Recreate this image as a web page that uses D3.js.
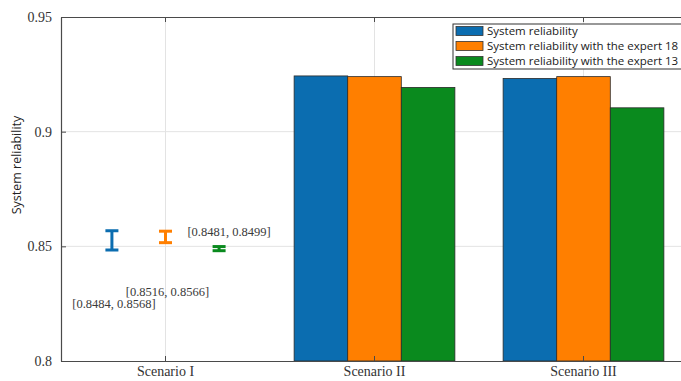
<!DOCTYPE html>
<html>
<head>
<meta charset="utf-8">
<script src="https://cdn.jsdelivr.net/npm/d3@7"></script>
<style>
  html, body { margin: 0; padding: 0; background: #fff; }
  svg { display: block; overflow: hidden; }
</style>
</head>
<body>
<svg id="chart" width="681" height="381"></svg>
<script>
// Scenario labels along the x axis
const categories = ["Scenario I", "Scenario II", "Scenario III"];
// The three compared quantities
const seriesNames = [
  "System reliability",
  "System reliability with the expert 18",
  "System reliability with the expert 13"
];
const seriesColors = ["#0b6db0", "#ff7f00", "#0a8a1e"];

// Scenario I: reliability intervals [low, high]
const intervalLow  = [0.8484, 0.8516, 0.8481];
const intervalHigh = [0.8568, 0.8566, 0.8499];

// Scenario II and III: point values
const scenarioIIValues  = [0.9243, 0.9240, 0.9193];
const scenarioIIIValues = [0.9232, 0.9240, 0.9104];

const yTicks = [0.8, 0.85, 0.9, 0.95];

const svg = d3.select("#chart");
const plot = { left: 61, right: 688, top: 17, bottom: 361 };

const x = d3.scaleBand().domain(categories).range([plot.left, plot.right]).padding(0);
const xSub = d3.scaleBand().domain(seriesNames).range([0, x.bandwidth()])
  .paddingInner(0).paddingOuter(0.45);
const y = d3.scaleLinear().domain([0.8, 0.95]).range([plot.bottom, plot.top]);
const color = d3.scaleOrdinal().domain(seriesNames).range(seriesColors);

const serif = "'Liberation Serif', 'Times New Roman', serif";
const sans = "'Open Sans', 'Liberation Sans', sans-serif";

// grid
const grid = svg.append("g").attr("stroke", "#e3e3e3").attr("stroke-width", 1);
grid.selectAll("line.gy").data(yTicks.slice(1, -1)).join("line")
  .attr("x1", plot.left).attr("x2", plot.right)
  .attr("y1", d => y(d)).attr("y2", d => y(d));
grid.selectAll("line.gx").data(categories).join("line")
  .attr("x1", d => x(d) + x.bandwidth() / 2).attr("x2", d => x(d) + x.bandwidth() / 2)
  .attr("y1", plot.top).attr("y2", plot.bottom);

// bars for Scenario II and III
const barRows = [
  { cat: "Scenario II", values: scenarioIIValues },
  { cat: "Scenario III", values: scenarioIIIValues }
];
const barData = barRows.flatMap(r => r.values.map((v, i) => ({ cat: r.cat, s: seriesNames[i], v })));
svg.append("g").selectAll("rect").data(barData).join("rect")
  .attr("x", d => x(d.cat) + xSub(d.s))
  .attr("width", xSub.bandwidth())
  .attr("y", d => y(d.v))
  .attr("height", d => y(0.8) - y(d.v))
  .attr("fill", d => color(d.s))
  .attr("stroke", "#2a2a2a").attr("stroke-width", 0.8);

// Scenario I interval bars
const intervals = seriesNames.map((s, i) => ({ s, lo: intervalLow[i], hi: intervalHigh[i], i }));
const cx = d => x("Scenario I") + xSub(d.s) + xSub.bandwidth() / 2;
const capHalf = 6.5;
const eb = svg.append("g").selectAll("g").data(intervals).join("g")
  .attr("stroke", d => color(d.s)).attr("stroke-width", 3).attr("fill", "none");
eb.append("line").attr("x1", cx).attr("x2", cx).attr("y1", d => y(d.hi)).attr("y2", d => y(d.lo));
eb.append("line").attr("x1", d => cx(d) - capHalf).attr("x2", d => cx(d) + capHalf)
  .attr("y1", d => y(d.hi)).attr("y2", d => y(d.hi));
eb.append("line").attr("x1", d => cx(d) - capHalf).attr("x2", d => cx(d) + capHalf)
  .attr("y1", d => y(d.lo)).attr("y2", d => y(d.lo));

// interval annotations
const fmt = d3.format(".4f");
const labelPlace = [
  { dx: 2, from: "lo", dy: 58 },
  { dx: 2, from: "lo", dy: 53 },
  { dx: 10, from: "hi", dy: -11 }
];
svg.append("g").selectAll("text").data(intervals).join("text")
  .attr("x", d => cx(d) + labelPlace[d.i].dx)
  .attr("y", d => y(d[labelPlace[d.i].from]) + labelPlace[d.i].dy)
  .attr("text-anchor", "middle")
  .attr("font-family", serif).attr("font-size", 12.5).attr("fill", "#3a3a3a")
  .text(d => `[${fmt(d.lo)}, ${fmt(d.hi)}]`);

// axes
const axisColor = "#4a4a4a";
const yAxis = svg.append("g").attr("transform", `translate(${plot.left},0)`)
  .call(d3.axisLeft(y).tickValues(yTicks).tickFormat(d3.format("")).tickSizeInner(-5).tickSizeOuter(0).tickPadding(9));
const xAxis = svg.append("g").attr("transform", `translate(0,${plot.bottom})`)
  .call(d3.axisBottom(x).tickSizeInner(-5).tickSizeOuter(0).tickPadding(5));
const xTop = svg.append("g").attr("transform", `translate(0,${plot.top})`)
  .call(d3.axisTop(x).tickSizeInner(-5).tickSizeOuter(0).tickFormat(() => ""));
[yAxis, xAxis, xTop].forEach(g => {
  g.select(".domain").attr("stroke", axisColor).attr("stroke-width", 1.2);
  g.selectAll(".tick line").attr("stroke", axisColor);
  g.selectAll("text").attr("font-family", serif).attr("font-size", 14).attr("fill", "#333");
});

// y title
svg.append("text")
  .attr("transform", `translate(21,${(y(0.9) + y(0.85)) / 2 - 24}) rotate(-90)`)
  .attr("text-anchor", "middle")
  .attr("font-family", sans).attr("font-size", 12.5).attr("fill", "#222")
  .text("System reliability");

// legend
const lg = svg.append("g").attr("transform", "translate(453,24)");
lg.append("rect").attr("width", 240).attr("height", 45)
  .attr("fill", "#fff").attr("stroke", "#333").attr("stroke-width", 1);
const items = lg.selectAll("g.item").data(seriesNames).join("g")
  .attr("transform", (d, i) => `translate(3,${2.5 + i * 15})`);
items.append("rect").attr("width", 27).attr("height", 9)
  .attr("fill", d => color(d)).attr("stroke", "#333").attr("stroke-width", 0.8);
items.append("text").attr("x", 31).attr("y", 8.6)
  .attr("font-family", sans).attr("font-size", 11.5).attr("fill", "#1a1a1a")
  .text(d => d);
</script>
</body>
</html>
